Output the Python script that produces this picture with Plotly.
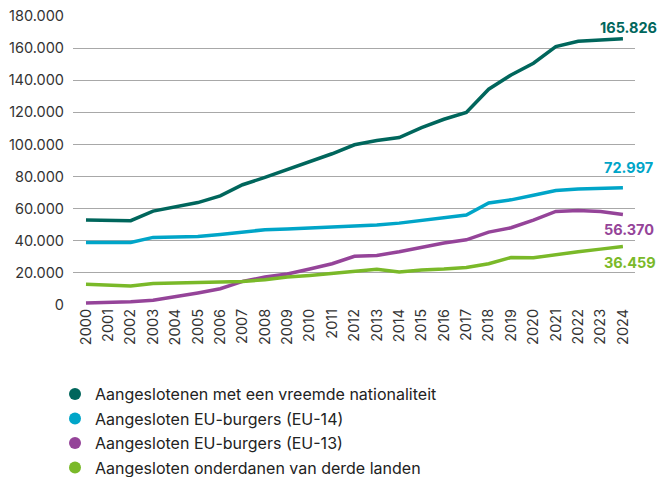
import plotly.graph_objects as go

years = list(range(2000, 2025))
totaal = [53000, 52700, 52500, 58500, 61000, 63800, 68000, 74900, 79500, 84500, 89400, 94200,
          99800, 102400, 104300, 110500, 115700, 119900, 134400, 143300, 150600, 160900, 164300,
          165300, 165826]
eu14 = [39000, 39000, 39000, 42100, 42300, 42700, 43900, 45600, 46900, 47300, 47900, 48300,
        49300, 49800, 51000, 52700, 54300, 56000, 63500, 65500, 68400, 71300, 72200, 72600, 72997]
eu13 = [1200, 1400, 2000, 2900, 5000, 7500, 10100, 14700, 17400, 19300, 22400, 25700,
        30300, 30900, 33200, 36100, 38600, 40600, 45400, 48100, 52900, 58300, 58900, 58200, 56370]
derde = [13000, 12400, 11800, 13400, 13900, 14000, 14300, 14700, 15700, 17400, 18400, 19500,
         20700, 22200, 20500, 21800, 22400, 23400, 25700, 29600, 29400, 31500, 33200, 34800, 36459]

names = ["Aangeslotenen met een vreemde nationaliteit",
         "Aangesloten EU-burgers (EU-14)",
         "Aangesloten EU-burgers (EU-13)",
         "Aangesloten onderdanen van derde landen"]
colors = ["#00665C", "#00A5C8", "#954499", "#7AB929"]
series = [totaal, eu14, eu13, derde]
end_labels = ["165.826", "72.997", "56.370", "36.459"]
label_yshift = [11, 20, -15, -16]
label_xshift = [-25, -21, -21, -21]

W, H = 657, 469  # page adds an 8px body margin

fig = go.Figure()
for i, (name, col, vals) in enumerate(zip(names, colors, series)):
    fig.add_trace(go.Scatter(x=years, y=vals, mode="lines", name=name,
                             line=dict(color=col, width=3.5), showlegend=False,
                             hoverinfo="skip"))
for i, (name, col) in enumerate(zip(names, colors)):
    fig.add_trace(go.Scatter(x=[None], y=[None], mode="markers", name=name,
                             marker=dict(color=col, size=13, symbol="circle"),
                             legendgroup=str(i)))

for i, (lab, col, vals) in enumerate(zip(end_labels, colors, series)):
    fig.add_annotation(x=years[-1], y=vals[-1], text="<b>" + lab + "</b>", showarrow=False,
                       xanchor="left", yanchor="middle", xshift=label_xshift[i],
                       yshift=label_yshift[i],
                       font=dict(color=col, size=14.5, family="Inter"))

fig.update_layout(
    width=W, height=H,
    margin=dict(l=65, r=30, t=8, b=172, autoexpand=False),
    plot_bgcolor="white", paper_bgcolor="white",
    font=dict(family="Inter", size=14, color="#333333"),
    xaxis=dict(range=[1999.42, 2024.54], tickmode="array", tickvals=years,
               ticktext=[str(y) for y in years], tickangle=-90, showgrid=False,
               zeroline=False, showline=False, ticks="", fixedrange=True,
               tickfont=dict(size=14.5, color="#333333")),
    yaxis=dict(range=[0, 180000], tickvals=list(range(0, 180001, 20000)),
               ticktext=["0", "20.000", "40.000", "60.000", "80.000", "100.000",
                         "120.000", "140.000", "160.000", "180.000"],
               showgrid=True, gridcolor="#A8A8A8", gridwidth=1, zeroline=False,
               showline=False, ticks="", ticklabelstandoff=8, ticklabeloverflow="allow",
               tickfont=dict(size=14.5, color="#333333")),
    legend=dict(x=47 / W, xref="container", y=1 - 369 / H, yref="container",
                yanchor="top", xanchor="left", tracegroupgap=0.7,
                font=dict(size=16, color="#222222"),
                itemsizing="constant", bgcolor="rgba(0,0,0,0)"),
    showlegend=True,
)

fig.write_html("out.html")
